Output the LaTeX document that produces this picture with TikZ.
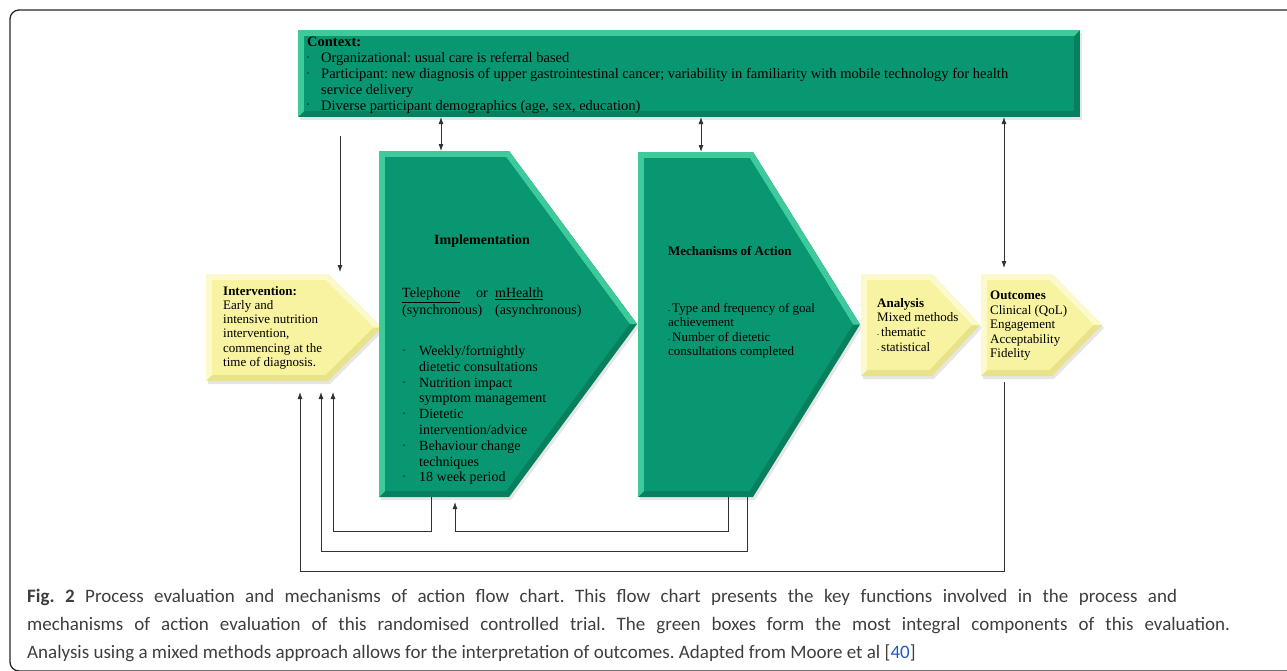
\documentclass[tikz,border=0pt]{standalone}
\usepackage{fontspec}
\setmainfont{Liberation Serif}
\newfontfamily\capfont{Carlito}
\usetikzlibrary{arrows.meta,shadows}

\definecolor{gmain}{RGB}{9,151,113}
\definecolor{glight}{RGB}{62,202,155}
\definecolor{gdark}{RGB}{8,128,95}
\definecolor{ymain}{RGB}{247,243,160}
\definecolor{ylight}{RGB}{252,250,204}
\definecolor{ydark}{RGB}{232,226,138}
\definecolor{wire}{RGB}{50,50,50}
\definecolor{captext}{RGB}{62,62,62}
\definecolor{citeblue}{RGB}{30,90,200}

\tikzset{
  slab/.style={inner sep=0pt, outer sep=0pt},
  softshadow/.style={drop shadow={shadow xshift=2pt, shadow yshift=-3pt, opacity=0.2}},
  flow/.style={draw=wire, line width=0.8pt, -{Latex[length=7pt,width=5pt]}},
  twoway/.style={flow, {Latex[length=7pt,width=5pt]}-{Latex[length=7pt,width=5pt]}},
  label/.style={inner sep=0pt, anchor=north west, align=left, text=black},
}

% little list marks
\newcommand{\itemdot}[1][14pt]{\makebox[#1][l]{\raisebox{0.22em}{\scalebox{0.4}{\textbullet}}}}
\newcommand{\dashmark}{\makebox[4pt][l]{\scalebox{0.5}{-}}}

% bevelled arrow block: name, left, top, shoulder, tip, bottom, colour family
\newcommand{\bevelarrow}[7]{%
  \pgfmathsetmacro\bM{(#3+#6)/2}%
  \pgfmathsetmacro\bH{6/sin(atan((\bM-#3)/(#5-#4)))}%
  \pgfmathsetmacro\bR{#4+6*(#5-#4)/(\bM-#3)-\bH}%
  \pgfmathsetmacro\bP{#5-\bH}%
  \fill[#7dark, softshadow] (#2,#3) -- (#4,#3) -- (#5,\bM) -- (#4,#6) -- (#2,#6) -- cycle;
  \fill[#7light] (#2,#3) -- (#4,#3) -- (#5,\bM) -- (\bP,\bM) -- (\bR,#3+6)
     -- (#2+6,#3+6) -- (#2+6,#6-6) -- (#2,#6) -- cycle;
  \fill[#7main] (#2+6,#3+6) -- (\bR,#3+6) -- (\bP,\bM) -- (\bR,#6-6) -- (#2+6,#6-6) -- cycle;
  \node[slab, anchor=north west, minimum width=#5-#2, minimum height=#6-#3] (#1) at (#2,#3) {};
}
% bevelled plain block: name, left, top, right, bottom, colour family
\newcommand{\bevelrect}[6]{%
  \fill[#6dark, softshadow] (#2,#3) rectangle (#4,#5);
  \fill[#6light] (#2,#3) -- (#4,#3) -- (#4-6,#3+6) -- (#2+6,#3+6) -- (#2+6,#5-6) -- (#2,#5) -- cycle;
  \fill[#6main] (#2+6,#3+6) rectangle (#4-6,#5-6);
  \node[slab, anchor=north west, minimum width=#4-#2, minimum height=#5-#3] (#1) at (#2,#3) {};
}

\begin{document}
\frenchspacing
\begin{tikzpicture}[x=1pt, y=-1pt]
\useasboundingbox (0,0) rectangle (1287,670);
\draw[line width=1.3pt, draw=black!85, rounded corners=9pt] (10,10) rectangle (1300,671);

% blocks
\bevelrect{context}{298}{30}{1080}{117}{g}
\bevelarrow{interv}{206}{274}{328}{382}{381}{y}
\bevelarrow{impl}{379}{151}{509}{637}{497}{g}
\bevelarrow{mech}{638}{152}{753}{860}{497}{g}
\bevelarrow{analysis}{861}{274}{932}{980}{376}{y}
\bevelarrow{outcome}{981}{274}{1052}{1102}{376}{y}

% texts
\node[label, font=\fontsize{14.5}{15.8}\selectfont] (ctx-text) at (307,37)
  {\textbf{Context:}\\
   \itemdot Organizational: usual care is referral based\\
   \itemdot Participant: new diagnosis of upper gastrointestinal cancer; variability in familiarity with mobile technology for health\\
   \hspace*{14pt}service delivery\\
   \itemdot Diverse participant demographics (age, sex, education)};

\node[label, font=\fontsize{13}{14.2}\selectfont] (interv-text) at (223,286)
  {\textbf{Intervention:}\\ Early and\\ intensive nutrition\\ intervention,\\
   commencing at the\\ time of diagnosis.};

\node[slab, font=\bfseries\fontsize{14}{16}\selectfont] (impl-head) at (482,241) {Implementation};
\node[label, font=\fontsize{14}{17}\selectfont] (impl-tel) at (402,287.5)
  {\underline{Telephone}\\(synchronous)};
\node[slab, anchor=west, font=\fontsize{14}{17}\selectfont] (impl-or) at (476,294) {or};
\node[label, font=\fontsize{14}{17}\selectfont] (impl-mob) at (495,287.5)
  {\underline{mHealth}\\(asynchronous)};
\node[label, font=\fontsize{14}{15.8}\selectfont] (impl-list) at (403,345.5)
  {\itemdot[16pt]Weekly/fortnightly\\ \hspace*{16pt}dietetic consultations\\
   \itemdot[16pt]Nutrition impact\\ \hspace*{16pt}symptom management\\
   \itemdot[16pt]Dietetic\\ \hspace*{16pt}intervention/advice\\
   \itemdot[16pt]Behaviour change\\ \hspace*{16pt}techniques\\
   \itemdot[16pt]18 week period};

\node[slab, anchor=west, font=\bfseries\fontsize{13}{15}\selectfont] (mech-head) at (668,251) {Mechanisms of Action};
\node[label, font=\fontsize{13}{14.4}\selectfont] (mech-text) at (668,303)
  {\dashmark Type and frequency of goal\\ achievement\\
   \dashmark Number of dietetic\\ consultations completed};

\node[label, font=\fontsize{13}{14.6}\selectfont] (analysis-text) at (877,298)
  {\textbf{Analysis}\\ Mixed methods\\ \dashmark thematic\\ \dashmark statistical};

\node[label, font=\fontsize{13}{14.5}\selectfont] (outcome-text) at (990,291)
  {\textbf{Outcomes}\\ Clinical (QoL)\\ Engagement\\ Acceptability\\ Fidelity};

% ports
\coordinate (impl-top) at ([xshift=-67pt]impl.north);
\coordinate (mech-top) at ([xshift=-48pt]mech.north);
\coordinate (out-top) at ([xshift=-37.5pt,yshift=6pt]outcome.north);

% connectors
\draw[flow] ([xshift=-349pt,yshift=-19pt]context.south) -- ([xshift=46pt,yshift=2pt]interv.north);
\draw[twoway] (context.south -| impl-top) -- (impl-top);
\draw[twoway] (context.south -| mech-top) -- (mech-top);
\draw[twoway] (context.south -| out-top) -- (out-top);

% feedback
\draw[flow] ([xshift=-37.5pt,yshift=-6pt]outcome.south) -- ++(0,189) -| ([xshift=6pt,yshift=-11pt]interv.south);
\draw[flow] ([xshift=-2pt]mech.south) -- ++(0,54) -| ([xshift=27pt,yshift=-11pt]interv.south);
\draw[flow] ([xshift=-77pt]impl.south) -- ++(0,34) -| ([xshift=39pt,yshift=-11pt]interv.south);
\draw[flow] ([xshift=-21pt]mech.south) -- ++(0,34) -| ([xshift=-53pt,yshift=-5pt]impl.south);

% caption
\node[label, text=captext, font=\capfont\fontsize{19}{28}\selectfont] (caption) at (27,589)
  {\makebox[1150pt][s]{\textbf{Fig. 2} Process evaluation and mechanisms of action flow chart. This flow chart presents the key functions involved in the process and}\\
   \makebox[1203pt][s]{mechanisms of action evaluation of this randomised controlled trial. The green boxes form the most integral components of this evaluation.}\\
   Analysis using a mixed methods approach allows for the interpretation of outcomes. Adapted from Moore et al [\textcolor{citeblue}{40}]};
\end{tikzpicture}
\end{document}
